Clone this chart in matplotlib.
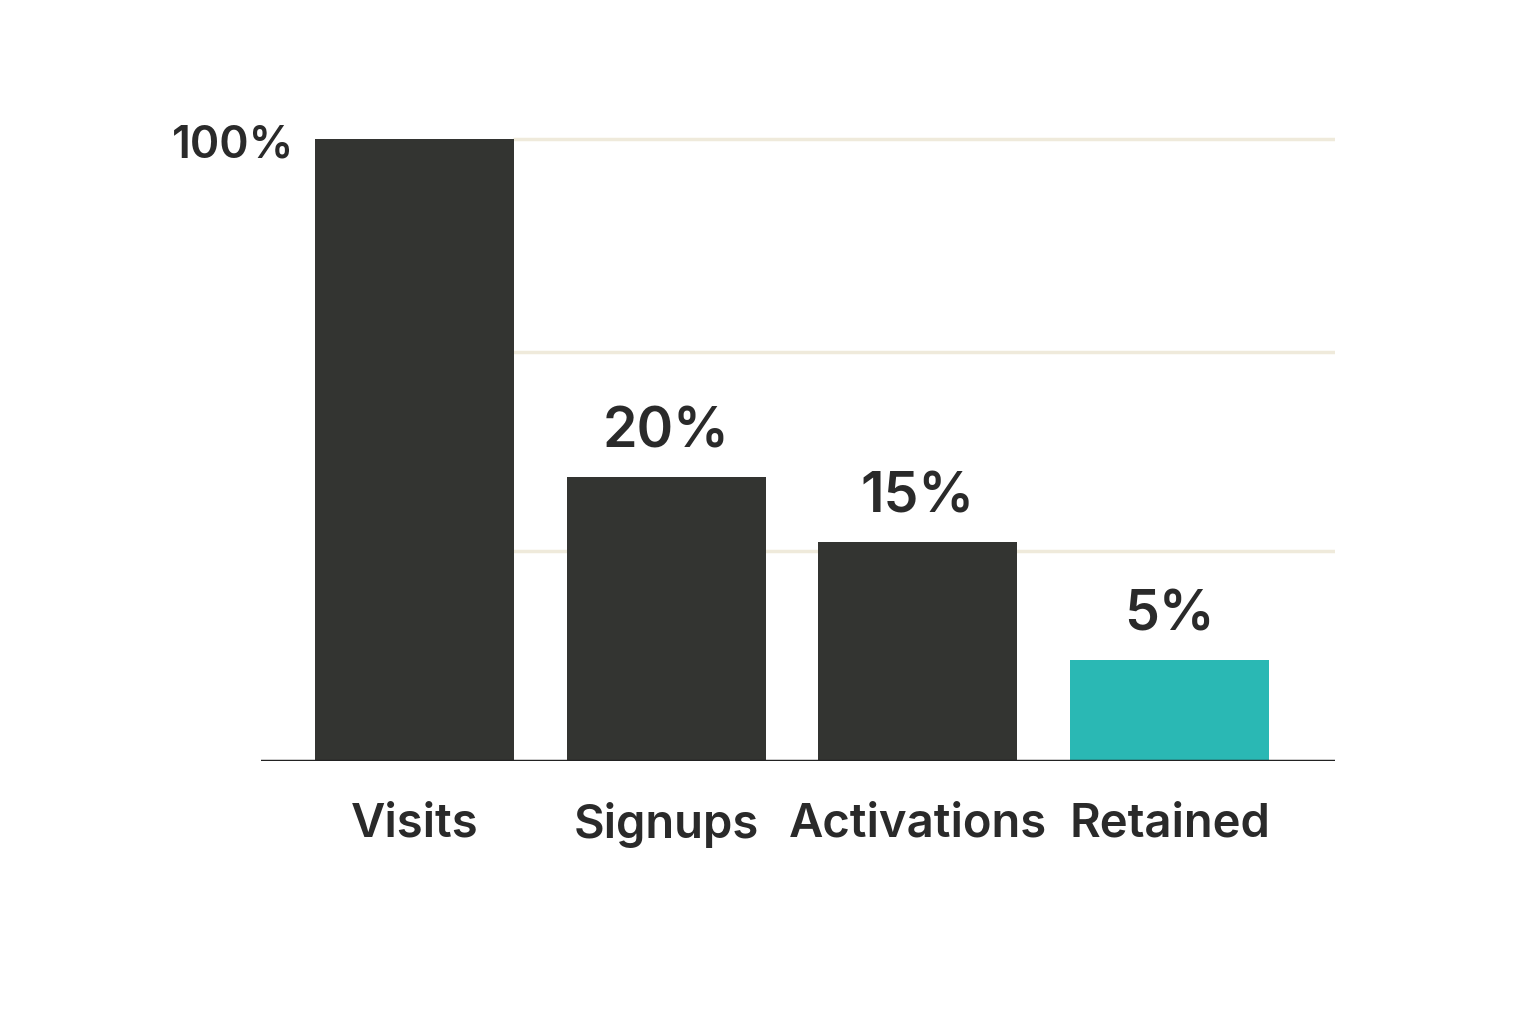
import matplotlib
matplotlib.use("Agg")
import matplotlib.pyplot as plt

categories = ["Visits", "Signups", "Activations", "Retained"]
value_labels = ["100%", "20%", "15%", "5%"]
# bar heights as drawn in the reference (not proportional to the labels)
bar_heights = [100, 45.7, 35.2, 16.2]
grid_levels = [100, 65.8, 33.8]
bar_colors = ["#333431", "#333431", "#333431", "#2ab8b4"]

plt.rcParams['font.family'] = ['Inter', 'DejaVu Sans']
fig = plt.figure(figsize=(15.36, 10.24), dpi=100)
ax = fig.add_axes([0.170, 0.257, 0.699, 0.645])
x = list(range(len(categories)))
ax.set_xlim(-0.61, 3.657)
ax.set_ylim(0, 106.3)
for g in grid_levels:
    ax.hlines(g, 0.39, 3.657, color="#efeadb", lw=2.5, zorder=0)
ax.bar(x, bar_heights, width=0.79, color=bar_colors, zorder=2)
ax.axhline(0, color="#222222", lw=2.5, zorder=3)
for i, (h, lab) in enumerate(zip(bar_heights, value_labels)):
    if i == 0:
        ax.text(i - 0.72, h - 1, lab, ha="center", va="center", fontsize=32,
                fontweight="semibold", color="#2a2a2a")
    else:
        ax.text(i, h + 3, lab, ha="center", va="bottom", fontsize=40,
                fontweight="semibold", color="#2a2a2a")
ax.set_xticks(x)
ax.set_xticklabels(categories, fontsize=34, fontweight="semibold", color="#2a2a2a")
ax.tick_params(axis="x", length=0, pad=30)
ax.set_yticks([])
for s in ax.spines.values():
    s.set_visible(False)
fig.savefig("out.png", dpi=100)
